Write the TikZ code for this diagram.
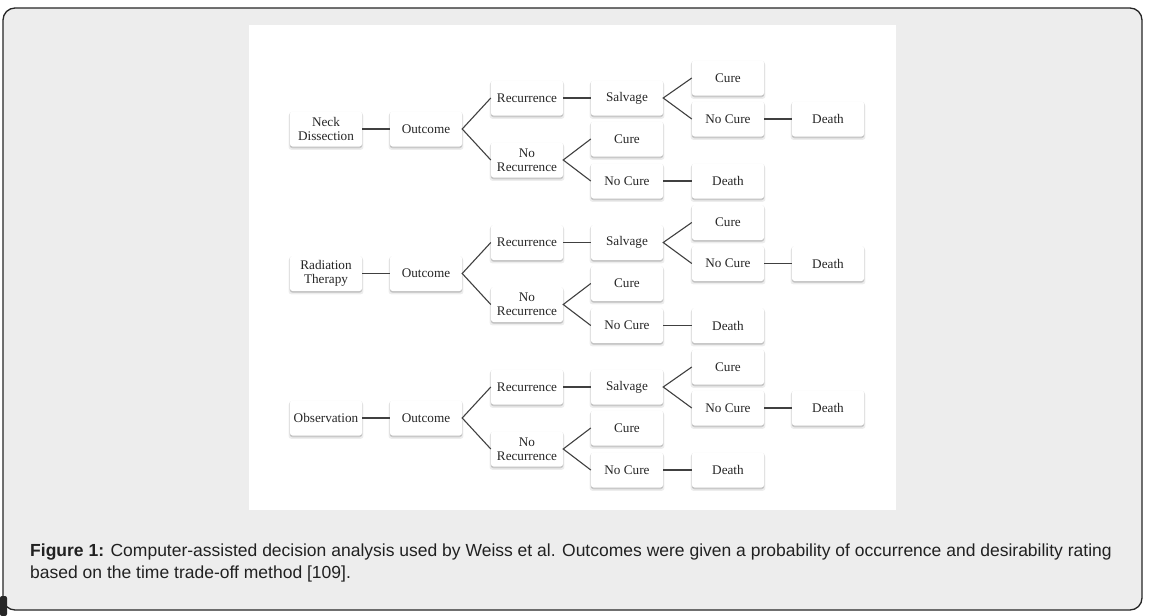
\documentclass[tikz,border=0pt]{standalone}
\usepackage{fontspec}
\setmainfont{Liberation Serif}
\newfontfamily\capfont{Liberation Sans}
\usetikzlibrary{shadows}
\begin{document}
\begin{tikzpicture}[x=1pt,y=-1pt,
  box/.style={fill=white, rounded corners=2.5pt, minimum width=72pt, minimum height=35pt,
    inner sep=1pt, align=center, font=\fontsize{13.2}{13.6}\selectfont, text=black!85,
    drop shadow={shadow xshift=0pt, shadow yshift=-2.5pt, shadow scale=1.04, opacity=0.07, fill=black},
    drop shadow={shadow xshift=0pt, shadow yshift=-1.8pt, opacity=0.13, fill=black},
    drop shadow={shadow xshift=0pt, shadow yshift=-0.6pt, shadow scale=1.02, opacity=0.07, fill=black}},
  link/.style={draw=black!75, line width=1.1pt},
  captext/.style={anchor=base west, inner sep=0pt, text=black!87, font=\capfont\fontsize{17.5}{22}\selectfont}]
\useasboundingbox (0,0) rectangle (1152,616);
\fill[white] (0,0) rectangle (1152,616);
\draw[fill=black!7, draw=black!85, line width=1.3pt, rounded corners=12pt] (3,8) rectangle (1142,610);
\fill[white] (249,25) rectangle (896,510);
\fill[black!85, rounded corners=2pt] (0,596) rectangle (7,616);
\foreach \i/\o/\lbl in {1/0/{Neck\\Dissection}, 2/144.5/{Radiation\\Therapy}, 3/289/{Observation}}{
  \node[box] (a\i) at (326,129+\o) {\lbl};
  \node[box] (b\i) at (426,129+\o) {Outcome};
  \node[box] (c\i) at (527,98+\o) {Recurrence};
  \node[box] (d\i) at (527,160+\o) {No\\Recurrence};
  \node[box] (e\i) at (627,98+\o) {Salvage};
  \node[box] (f\i) at (728,78+\o) {Cure};
  \node[box] (g\i) at (728,119+\o) {No Cure};
  \node[box] (h\i) at (828,119+\o) {Death};
  \node[box] (j\i) at (627,139+\o) {Cure};
  \node[box] (k\i) at (627,181+\o) {No Cure};
  \node[box] (m\i) at (728,181+\o) {Death};
  \draw[link] (a\i.east) -- (b\i.west);
  \draw[link] (c\i.west) -- (b\i.east) -- (d\i.west);
  \draw[link] (c\i.east) -- (e\i.west);
  \draw[link] (f\i.west) -- (e\i.east) -- (g\i.west);
  \draw[link] (g\i.east) -- (h\i.west);
  \draw[link] (j\i.west) -- (d\i.east) -- (k\i.west);
  \draw[link] (k\i.east) -- (m\i.west);
}
\node[captext] (cap1) at (30,556) {\textbf{Figure 1:} Computer-assisted decision analysis used by Weiss et al. Outcomes were given a probability of occurrence and desirability rating};
\node[captext] (cap2) at (30,578) {based on the time trade-off method [109].};
\end{tikzpicture}
\end{document}
